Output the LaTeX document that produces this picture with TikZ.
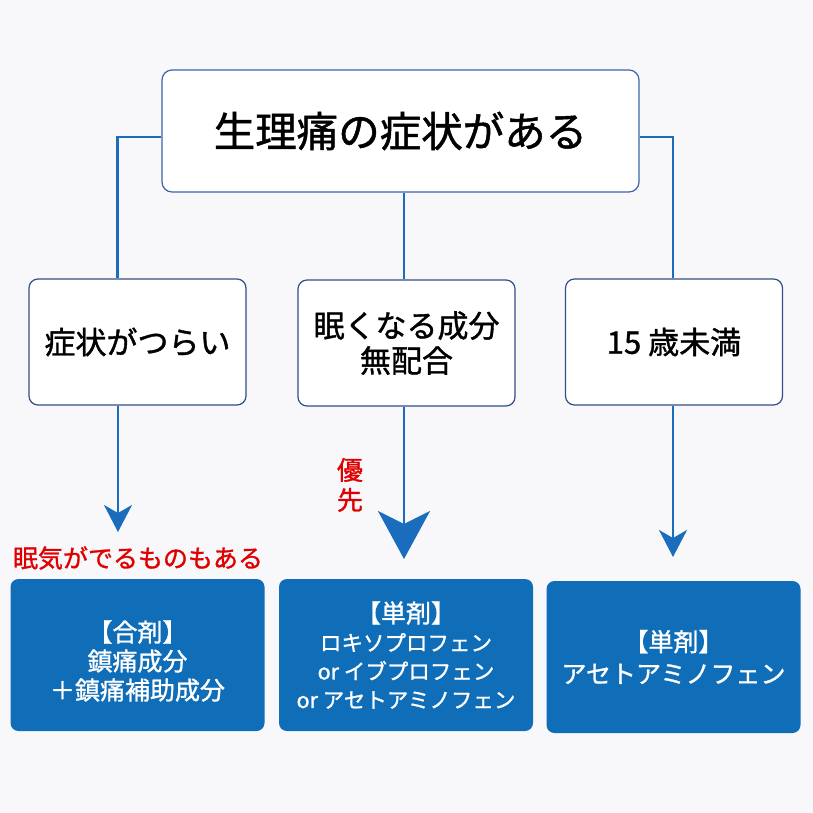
\documentclass[tikz,border=0pt]{standalone}
\usepackage{fontspec}
\setmainfont{Noto Sans CJK JP}[FakeBold=1.2]
\usetikzlibrary{arrows.meta}

\definecolor{bgcol}{HTML}{F8F8FB}
\definecolor{linkblue}{HTML}{1A6DBD}
\definecolor{edgeblue}{HTML}{3E63A8}
\definecolor{drugblue}{HTML}{106DB7}
\definecolor{warnred}{HTML}{E00000}

\tikzset{
  topbox/.style={draw=edgeblue, line width=1.2pt, fill=white, rounded corners=10pt,
    minimum width=477pt, minimum height=122pt, font=\fontsize{41.5}{48}\selectfont},
  choicebox/.style={draw=edgeblue!80!black, line width=1.2pt, fill=white, rounded corners=9pt,
    minimum width=217pt, minimum height=126pt, align=center, font=\fontsize{31}{35}\selectfont},
  drugbox/.style={fill=drugblue, rounded corners=8pt, text=white, align=center,
    minimum width=254pt, minimum height=152pt},
  note/.style={text=warnred, align=center, font=\fontsize{25}{30}\selectfont},
  link/.style={draw=linkblue, line width=2.5pt},
  smallhead/.style={-{Stealth[length=27pt,width=28pt,inset=8pt]}},
  bighead/.style={-{Stealth[length=48pt,width=52pt,inset=13pt]}},
}

\begin{document}
\begin{tikzpicture}[x=1pt, y=-1pt, inner sep=0pt]
  \fill[bgcol] (0,0) rectangle (813,813);
  \useasboundingbox (0,0) rectangle (813,813);

  % top
  \node[topbox] (top) at (400.5,131) {生理痛の症状がある};

  % middle row
  \node[choicebox] (symptom) at (137.5,342) {症状がつらい};
  \node[choicebox] (nosleep) at (406.5,343) {眠くなる成分\\無配合};
  \node[choicebox] (age) at (674,342) {15 歳未満};

  % bottom row
  \node[drugbox, font=\fontsize{25}{29}\selectfont] (combo) at (137.5,655) {};
  \node[font=\fontsize{25}{29}\selectfont, text=white, align=center] (combotext) at (137.5,661) {【合剤】\\鎮痛成分\\＋鎮痛補助成分};
  \node[drugbox, font=\fontsize{21.5}{28.5}\selectfont] (single) at (406,655) {{\fontsize{25}{28.5}\selectfont【単剤】}\\ロキソプロフェン\\or イブプロフェン\\or アセトアミノフェン};
  \node[drugbox, font=\fontsize{25}{32}\selectfont] (aceta) at (673.5,657) {【単剤】\\アセトアミノフェン};

  % notes
  \node[note] (drowsy) at (138,558) {眠気がでるものもある};
  \node[note, font=\fontsize{26}{30}\selectfont] (first) at (350,485) {優\\先};

  % arrow tips
  \coordinate (tipA) at (118,532);
  \coordinate (tipB) at (404,559);
  \coordinate (tipC) at (673,557);

  % connectors
  \path[link] ([yshift=-6pt]top.west) -| ([xshift=-20pt]symptom.north);
  \path[link] ([yshift=-6pt]top.east) -| ([xshift=-1pt]age.north);
  \path[link] (top.south -| tipB) -- (nosleep.north -| tipB);

  \path[link, smallhead] (symptom.south -| tipA) -- (tipA);
  \path[link, bighead] (nosleep.south -| tipB) -- (tipB);
  \path[link, smallhead] (age.south -| tipC) -- (tipC);
\end{tikzpicture}
\end{document}
